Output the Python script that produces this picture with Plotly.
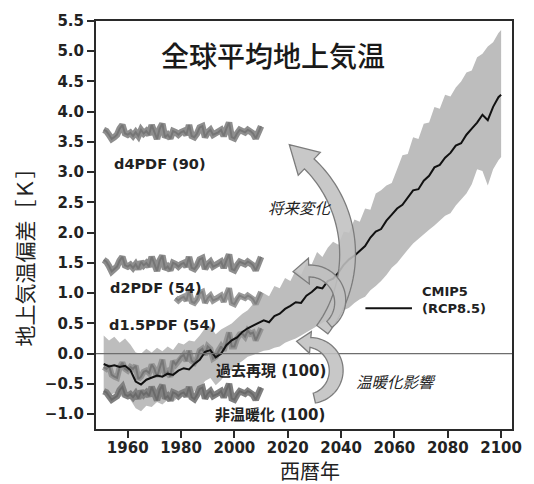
import numpy as np
import plotly.graph_objects as go

# ---------------- data ----------------
hist_years = list(range(1951, 2011))
d4pdf = [3.70, 3.68, 3.62, 3.55, 3.58, 3.62, 3.72, 3.78, 3.64, 3.62,
         3.65, 3.60, 3.66, 3.60, 3.70, 3.64, 3.68, 3.62, 3.78, 3.66,
         3.55, 3.72, 3.80, 3.58, 3.62, 3.56, 3.68, 3.66, 3.62, 3.66,
         3.68, 3.62, 3.78, 3.60, 3.58, 3.64, 3.74, 3.76, 3.58, 3.66,
         3.70, 3.62, 3.64, 3.66, 3.70, 3.60, 3.72, 3.82, 3.58, 3.56,
         3.64, 3.70, 3.68, 3.66, 3.70, 3.68, 3.64, 3.56, 3.66, 3.76]
d2pdf = [1.55, 1.52, 1.45, 1.36, 1.40, 1.44, 1.54, 1.60, 1.46, 1.44,
         1.47, 1.42, 1.48, 1.40, 1.52, 1.46, 1.50, 1.44, 1.60, 1.48,
         1.37, 1.54, 1.62, 1.40, 1.44, 1.38, 1.50, 1.48, 1.44, 1.48,
         1.50, 1.44, 1.60, 1.42, 1.40, 1.46, 1.56, 1.58, 1.40, 1.48,
         1.52, 1.44, 1.46, 1.48, 1.52, 1.42, 1.54, 1.64, 1.40, 1.38,
         1.46, 1.52, 1.50, 1.48, 1.52, 1.50, 1.46, 1.38, 1.48, 1.60]
d15_years = list(range(1978, 2011))
d15pdf = [0.92, 0.88, 0.92, 0.94, 0.88, 1.04, 0.86, 0.84, 0.90, 1.00,
          1.02, 0.84, 0.92, 0.96, 0.88, 0.90, 0.92, 0.96, 0.86, 0.98,
          1.08, 0.84, 0.82, 0.90, 0.96, 0.94, 0.92, 0.96, 0.94, 0.90,
          0.82, 0.92, 1.02]
past = [-0.22, -0.25, -0.20, -0.35, -0.38, -0.40, -0.22, -0.15, -0.25, -0.28,
        -0.22, -0.25, -0.20, -0.42, -0.38, -0.30, -0.28, -0.32, -0.18, -0.25,
        -0.38, -0.22, -0.10, -0.35, -0.30, -0.38, -0.12, -0.18, -0.12, -0.05,
        -0.02, -0.12, 0.05, -0.12, -0.15, -0.08, 0.05, 0.08, -0.02, 0.12,
        0.08, -0.08, -0.05, 0.05, 0.12, 0.05, 0.18, 0.35, 0.12, 0.12,
        0.25, 0.32, 0.33, 0.28, 0.38, 0.33, 0.35, 0.22, 0.32, 0.42]
nonwarm = [-0.62, -0.64, -0.70, -0.76, -0.73, -0.70, -0.60, -0.55, -0.68, -0.70,
           -0.67, -0.72, -0.66, -0.74, -0.62, -0.68, -0.64, -0.70, -0.55, -0.66,
           -0.77, -0.60, -0.52, -0.74, -0.70, -0.77, -0.64, -0.66, -0.70, -0.66,
           -0.64, -0.70, -0.55, -0.72, -0.75, -0.68, -0.58, -0.56, -0.74, -0.66,
           -0.62, -0.70, -0.68, -0.66, -0.62, -0.72, -0.60, -0.50, -0.74, -0.76,
           -0.68, -0.62, -0.64, -0.66, -0.62, -0.64, -0.68, -0.76, -0.66, -0.56]

cmip_years = list(range(1951, 2100, 2)) + [2100]
cmip_mean = [-0.17, -0.21, -0.19, -0.22, -0.20, -0.27, -0.46, -0.51, -0.43, -0.40,
             -0.36, -0.38, -0.33, -0.35, -0.28, -0.24, -0.26, -0.17, -0.10, 0.03,
             0.06, -0.06, 0.00, 0.14, 0.22, 0.27, 0.36, 0.42, 0.46, 0.50,
             0.55, 0.52, 0.62, 0.66, 0.74, 0.79, 0.85, 0.84, 0.96, 1.02,
             1.10, 1.08, 1.20, 1.24, 1.34, 1.47, 1.56, 1.62, 1.70, 1.78,
             1.92, 2.02, 2.06, 2.20, 2.30, 2.40, 2.46, 2.58, 2.70, 2.72,
             2.86, 2.94, 3.08, 3.12, 3.24, 3.32, 3.44, 3.48, 3.62, 3.72,
             3.82, 3.95, 3.86, 4.08, 4.24,
             4.28]
cmip_upper = [0.30, 0.22, 0.28, 0.18, 0.25, 0.15, 0.02, 0.00, 0.08, 0.02,
              0.10, 0.04, 0.12, 0.06, 0.18, 0.15, 0.22, 0.20, 0.30, 0.42,
              0.45, 0.32, 0.40, 0.45, 0.50, 0.58, 0.66, 0.72, 0.82, 0.86,
              1.00, 0.95, 1.12, 1.08, 1.25, 1.20, 1.38, 1.30, 1.50, 1.48,
              1.68, 1.60, 1.75, 1.85, 1.80, 2.02, 2.00, 2.22, 2.18, 2.40,
              2.38, 2.65, 2.70, 2.78, 2.82, 3.05, 3.28, 3.30, 3.58, 3.55,
              3.80, 3.82, 4.08, 4.05, 4.28, 4.25, 4.40, 4.50, 4.65, 4.68,
              4.90, 4.96, 5.08, 5.15, 5.30,
              5.35]
cmip_lower = [-0.62, -0.70, -0.65, -0.72, -0.68, -0.76, -0.90, -0.95, -0.86, -0.88,
              -0.80, -0.84, -0.76, -0.80, -0.72, -0.70, -0.74, -0.62, -0.58, -0.45,
              -0.40, -0.52, -0.44, -0.32, -0.26, -0.18, -0.12, -0.05, -0.02, 0.02,
              0.05, 0.06, 0.10, 0.12, 0.18, 0.22, 0.25, 0.30, 0.35, 0.40,
              0.46, 0.50, 0.56, 0.62, 0.66, 0.72, 0.76, 0.84, 0.90, 0.94,
              1.05, 1.12, 1.20, 1.30, 1.42, 1.50, 1.62, 1.72, 1.82, 1.90,
              1.98, 2.05, 2.12, 2.20, 2.28, 2.32, 2.45, 2.55, 2.65, 2.80,
              3.05, 3.02, 2.78, 3.05, 3.20,
              3.25]

x_ticks = [1960, 1980, 2000, 2020, 2040, 2060, 2080, 2100]
y_ticks = [-1.0, -0.5, 0.0, 0.5, 1.0, 1.5, 2.0, 2.5, 3.0, 3.5, 4.0, 4.5, 5.0, 5.5]

# ---------------- layout geometry ----------------
W, H = 534, 484
L, R, T, B = 96, 516, 17, 429
X0, X1 = 1948.12, 2104.08
Y0, Y1 = -1.245, 5.5

LATIN = "DejaVu Sans, Noto Sans CJK JP, sans-serif"
CJK = "Noto Sans CJK JP, sans-serif"
TXT = "#222222"


def px2data(px, py):
    return (X0 + (px - L) / (R - L) * (X1 - X0),
            Y1 - (py - T) / (B - T) * (Y1 - Y0))


def px2paper(px, py):
    return (px - L) / (R - L), (B - py) / (B - T)


def arc_arrow(cx, cy, rad, th_tail, th_head, hw_tail, hw_mid, hw_head,
              head_hw, head_len, n=48):
    ths = np.radians(np.linspace(th_tail, th_head, n))
    t = np.linspace(0, 1, n)
    hw = hw_tail * (1 - t) + hw_head * t + (hw_mid - (hw_tail + hw_head) / 2) * np.sin(np.pi * t)
    outer = [(cx + (rad + w) * np.cos(a), cy + (rad + w) * np.sin(a)) for a, w in zip(ths, hw)]
    inner = [(cx + (rad - w) * np.cos(a), cy + (rad - w) * np.sin(a)) for a, w in zip(ths, hw)]
    a = ths[-1]
    bx, by = cx + rad * np.cos(a), cy + rad * np.sin(a)
    tx, ty = np.sin(a), -np.cos(a)
    if th_head > th_tail:
        tx, ty = -tx, -ty
    tip = (bx + head_len * tx, by + head_len * ty)
    b_out = (cx + (rad + head_hw) * np.cos(a), cy + (rad + head_hw) * np.sin(a))
    b_in = (cx + (rad - head_hw) * np.cos(a), cy + (rad - head_hw) * np.sin(a))
    pts = outer + [b_out, tip, b_in] + inner[::-1]
    dpts = [px2data(*p) for p in pts]
    return "M " + " L ".join(f"{x:.4f},{y:.5f}" for x, y in dpts) + " Z"


fig = go.Figure()

# CMIP5 spread
fig.add_trace(go.Scatter(x=cmip_years, y=cmip_lower, mode="lines",
                         line=dict(width=0, color="#bcbcbc"), hoverinfo="skip"))
fig.add_trace(go.Scatter(x=cmip_years, y=cmip_upper, mode="lines", fill="tonexty",
                         fillcolor="#bdbdbd", line=dict(width=0, color="#bcbcbc"),
                         hoverinfo="skip"))


def band(xs, ys, outer, inner, w_out=6, w_in=2):
    fig.add_trace(go.Scatter(x=xs, y=ys, mode="lines",
                             line=dict(color=outer, width=w_out)))
    fig.add_trace(go.Scatter(x=xs, y=ys, mode="lines",
                             line=dict(color=inner, width=w_in)))


band(hist_years, past, "rgba(135,135,135,0.75)", "rgba(110,110,110,0.8)", 6, 2)
band(hist_years, nonwarm, "#808080", "#6a6a6a", 6.5, 2)
band(d15_years, d15pdf, "#9a9a9a", "#808080", 6, 2)
band(hist_years, d2pdf, "#8e8e8e", "#767676", 6.5, 2)
band(hist_years, d4pdf, "#8e8e8e", "#767676", 6.5, 2)

# CMIP5 mean
fig.add_trace(go.Scatter(x=cmip_years, y=cmip_mean, mode="lines",
                         line=dict(color="#111111", width=2)))

shapes = []
# zero line
shapes.append(dict(type="line", xref="x", yref="y", x0=X0, x1=X1, y0=0, y1=0,
                   line=dict(color="#6e6e6e", width=1.3), layer="above"))

arrow_fill = "rgba(192,192,192,0.88)"
arrow_line = dict(color="#7c7c7c", width=1.3)
for spec in [
    (223.3, 252.4, 126.7, 37, -46, 7, 8, 7, 16, 28),   # 将来変化 (to d4PDF)
    (312.0, 300.0, 30.5, 50, -92, 4, 6, 6, 13, 16),    # to d2PDF
    (310.0, 370.0, 28.5, 77, -85, 5, 7, 5, 11, 14),    # 温暖化影響
]:
    shapes.append(dict(type="path", xref="x", yref="y", path=arc_arrow(*spec),
                       fillcolor=arrow_fill, line=arrow_line, layer="above"))

# legend sample line for CMIP5
lx0, ly = px2paper(368, 307)
lx1, _ = px2paper(415, 307)
shapes.append(dict(type="line", xref="paper", yref="paper", x0=lx0, x1=lx1, y0=ly, y1=ly,
                   line=dict(color="#111111", width=2)))

annotations = []


def label(text, px, py, size, family=LATIN, weight="bold", style="normal",
          xanchor="center", angle=0, color=TXT, align="center"):
    x, y = px2paper(px, py)
    annotations.append(dict(text=text, x=x, y=y, xref="paper", yref="paper",
                            xanchor=xanchor, yanchor="middle", showarrow=False,
                            textangle=angle, align=align, borderpad=0,
                            font=dict(family=family, size=size, color=color,
                                      weight=weight, style=style)))


label("全球平均地上気温", 275, 51, 28, family=CJK, weight=500, color="#1a1a1a")
label("d4PDF (90)", 161, 161, 14.5)
label("d2PDF (54)", 157, 287, 14.5)
label("d1.5PDF (54)", 163, 324, 14.5)
label("過去再現 (100)", 273, 370, 15)
label("非温暖化 (100)", 272, 415, 15)
label("将来変化", 302, 205, 15.5, family=CJK, weight="normal", style="italic")
label("温暖化影響", 399, 381, 15.5, family=CJK, weight="normal", style="italic")
label("CMIP5<br>(RCP8.5)", 424, 299, 13, xanchor="left", align="left")
label("地上気温偏差［Ｋ］", 23, 250, 21, family=CJK, weight="normal", angle=-90)
label("西暦年", 312, 471, 20, family=CJK, weight="normal")

axis_common = dict(showline=True, linecolor="#2a2a2a", linewidth=2, mirror=True,
                   ticks="outside", ticklen=7, tickwidth=2, tickcolor="#2a2a2a",
                   showgrid=False, zeroline=False,
                   tickfont=dict(family=LATIN, size=15, color=TXT, weight="bold"))

fig.update_layout(
    width=W, height=H,
    margin=dict(l=L, r=W - R, t=T, b=H - B, pad=0),
    paper_bgcolor="white", plot_bgcolor="white",
    showlegend=False,
    xaxis=dict(range=[X0, X1], tickvals=x_ticks, ticklabelstandoff=-3, **axis_common),
    yaxis=dict(range=[Y0, Y1], tickvals=y_ticks, tickformat=".1f", **axis_common),
    shapes=shapes, annotations=annotations,
)

fig.write_html("out.html")
